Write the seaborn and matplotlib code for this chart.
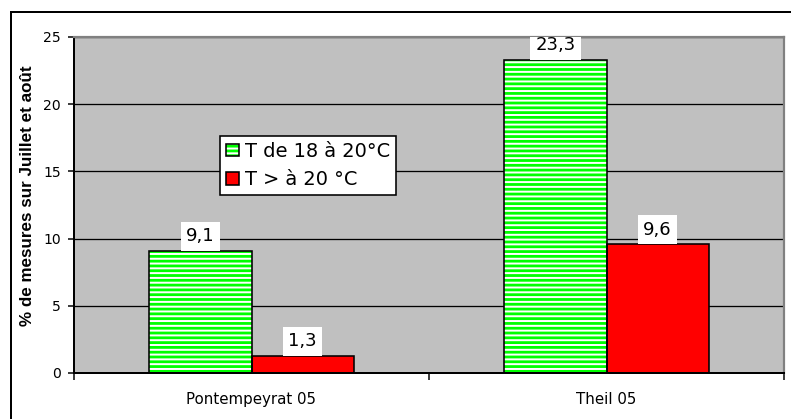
import matplotlib
matplotlib.use("Agg")
import matplotlib.pyplot as plt
from matplotlib.patches import Patch, Rectangle
from matplotlib.lines import Line2D
from matplotlib.legend_handler import HandlerTuple
from matplotlib.colors import to_rgba
import pandas as pd
import seaborn as sns

# Data
sites = ["Pontempeyrat 05", "Theil 05"]
series = ["T de 18 à 20°C", "T > à 20 °C"]
pct_18_20 = [9.1, 23.3]
pct_above_20 = [1.3, 9.6]
y_ticks = [0, 5, 10, 15, 20, 25]
y_label = "% de mesures sur Juillet et août"

GREEN = "#00FF00"
RED = "#FF0000"
PLOT_BG = "#C0C0C0"
FRAME_GREY = "#808080"
HATCH = "----"

DPI = 115
W, H = 791, 419


def px(v):
    """Convert a size in pixels to points at the output resolution."""
    return v * 72 / DPI


plt.rcParams.update({
    "font.family": ["DejaVu Sans"],
    "hatch.linewidth": px(2.8),
    "axes.linewidth": px(2),
})

LEG_FS = px(19.4)
VAL_FS = px(18)
XT_FS = px(15)
YT_FS = px(14)
YL_FS = px(17)
EDGE_LW = px(1.6)

df = pd.DataFrame({
    "site": sites * 2,
    "classe": [series[0]] * len(sites) + [series[1]] * len(sites),
    "pct": pct_18_20 + pct_above_20,
})

fig = plt.figure(figsize=(W / DPI, H / DPI), dpi=DPI)
ax = fig.add_axes([74 / W, 1 - 373 / H, 710 / W, 336 / H])
ax.set_facecolor(PLOT_BG)

sns.barplot(
    data=df, x="site", y="pct", hue="classe", hue_order=series,
    palette={series[0]: GREEN, series[1]: RED},
    width=0.575, saturation=1, errorbar=None,
    edgecolor="black", linewidth=EDGE_LW, legend=False, ax=ax, zorder=2,
)

# Green bars: white/green horizontal stripes with a black outline on top
green_rgba = to_rgba(GREEN)
for bar in list(ax.patches):
    if tuple(bar.get_facecolor()) == green_rgba:
        outline = Rectangle(bar.get_xy(), bar.get_width(), bar.get_height(),
                            fill=False, edgecolor="black", linewidth=EDGE_LW,
                            zorder=2.1)
        bar.set_facecolor("white")
        bar.set_edgecolor(GREEN)
        bar.set_hatch(HATCH)
        bar.set_linewidth(0)
        ax.add_patch(outline)

# Value labels in white boxes sitting on top of each bar
box_pad = 0.3
for cont in ax.containers:
    ax.bar_label(
        cont, fmt=lambda v: f"{v:.1f}".replace(".", ","),
        padding=box_pad * VAL_FS, fontsize=VAL_FS, color="black",
        bbox=dict(boxstyle=f"square,pad={box_pad}", facecolor="white",
                  edgecolor="none"),
        clip_on=True, zorder=3,
    )

# Axes
ax.set_xlim(-0.5, len(sites) - 0.5)
ax.set_ylim(y_ticks[0], y_ticks[-1])
ax.set_yticks(y_ticks)
ax.set_xticks([i - 0.5 for i in range(len(sites) + 1)], minor=True)
ax.yaxis.grid(True, color="black", linewidth=px(1.3))
ax.set_axisbelow(True)

ax.tick_params(axis="x", which="major", length=0, pad=px(19), labelsize=XT_FS)
ax.tick_params(axis="x", which="minor", length=px(7), width=px(1.5),
               direction="out", color="black")
ax.tick_params(axis="y", length=px(6), width=px(1.5), pad=px(7),
               labelsize=YT_FS, color="black")

for side in ("top", "right"):
    ax.spines[side].set_color(FRAME_GREY)
    ax.spines[side].set_linewidth(px(2.2))
for side in ("left", "bottom"):
    ax.spines[side].set_color("black")
    ax.spines[side].set_linewidth(px(2))

ax.set_xlabel("")
ax.set_ylabel(y_label, fontsize=YL_FS, fontweight="bold",
              family=["Liberation Sans", "DejaVu Sans"])
ax.yaxis.set_label_coords((35.5 - 74) / 710, (373 - 196) / 336)

# Legend
handles = [
    (Patch(facecolor="white", edgecolor=GREEN, hatch=HATCH, linewidth=0),
     Patch(fill=False, edgecolor="black", linewidth=EDGE_LW)),
    Patch(facecolor=RED, edgecolor="black", linewidth=EDGE_LW),
]
leg = ax.legend(
    handles, series,
    handler_map={tuple: HandlerTuple(ndivide=1, pad=0)},
    loc="upper left", bbox_to_anchor=(220 / W, 1 - 136 / H),
    bbox_transform=fig.transFigure, borderaxespad=0, fontsize=LEG_FS,
    frameon=True, fancybox=False, framealpha=1, edgecolor="black",
    handlelength=0.7, handleheight=0.62, handletextpad=0.27,
    borderpad=0.3, labelspacing=0.48,
)
leg.get_frame().set_linewidth(px(1.6))

# Chart frame around the whole figure (left and top edges)
fig.add_artist(Line2D([10.5 / W, 10.5 / W], [-0.01, 1 - 11.5 / H],
                      transform=fig.transFigure, color="black",
                      linewidth=px(2)))
fig.add_artist(Line2D([10.5 / W, 1.01], [1 - 11.5 / H, 1 - 11.5 / H],
                      transform=fig.transFigure, color="black",
                      linewidth=px(2)))

fig.savefig("out.png", dpi=DPI, facecolor="white")
